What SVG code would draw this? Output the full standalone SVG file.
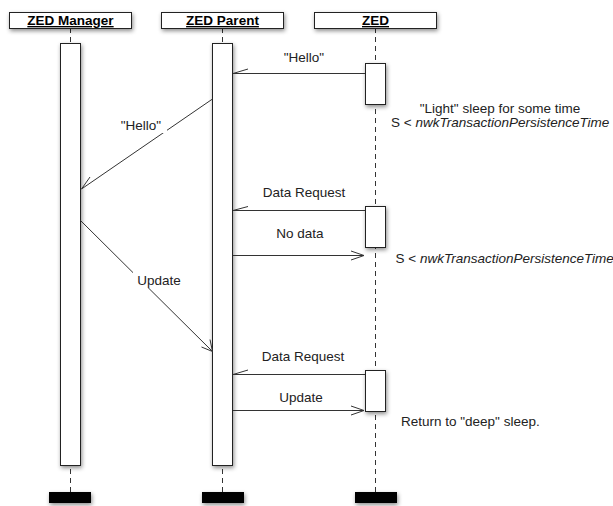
<svg xmlns="http://www.w3.org/2000/svg" width="613" height="506" viewBox="0 0 613 506">
<defs>
<filter id="sh" x="-50%" y="-50%" width="200%" height="200%">
<feDropShadow dx="1" dy="2" stdDeviation="2" flood-color="#000" flood-opacity="0.45"/>
</filter>
</defs>
<style>
.hdr{fill:#fff;stroke:#222;stroke-width:1}
.ht{font-family:"Liberation Sans",Arial,sans-serif;font-weight:bold;font-size:13.5px;text-decoration:underline;text-anchor:middle;fill:#000}
.life{stroke:#333;stroke-width:1;stroke-dasharray:5,4;fill:none}
.act{fill:#fff;stroke:#222;stroke-width:1}
.end{fill:#000}
.msg{stroke:#333;stroke-width:1;fill:none}
.t{font-family:"Liberation Sans",Arial,sans-serif;font-size:13.5px;fill:#222}
.c{text-anchor:middle}
.i{font-style:italic}
</style>
<rect width="613" height="506" fill="#fff"/>
<g id="lifelines">
<line class="life" x1="70.5" y1="28" x2="70.5" y2="492"/>
<line class="life" x1="222.5" y1="28" x2="222.5" y2="492"/>
<line class="life" x1="375.5" y1="28" x2="375.5" y2="492"/>
</g>
<g id="zed-manager">
<rect class="hdr" x="9.5" y="12.5" width="122" height="16" filter="url(#sh)"/>
<text class="ht" x="70.5" y="25">ZED Manager</text>
<rect class="act" x="60.5" y="43.5" width="20" height="422" filter="url(#sh)"/>
<rect class="end" x="49" y="492" width="42" height="11" filter="url(#sh)"/>
</g>
<g id="zed-parent">
<rect class="hdr" x="161.5" y="12.5" width="122" height="16" filter="url(#sh)"/>
<text class="ht" x="222.5" y="25">ZED Parent</text>
<rect class="act" x="212.5" y="43.5" width="20" height="422" filter="url(#sh)"/>
<rect class="end" x="202" y="492" width="42" height="11" filter="url(#sh)"/>
</g>
<g id="zed">
<rect class="hdr" x="314.5" y="12.5" width="122" height="16" filter="url(#sh)"/>
<text class="ht" x="375.5" y="25">ZED</text>
<rect class="act" x="365.5" y="63.5" width="20" height="41" filter="url(#sh)"/>
<rect class="act" x="365.5" y="206.5" width="20" height="41" filter="url(#sh)"/>
<rect class="act" x="365.5" y="370.5" width="20" height="41" filter="url(#sh)"/>
<rect class="end" x="355" y="492" width="42" height="11" filter="url(#sh)"/>
</g>
<g id="connectors">
<path class="msg" d="M365,73.5 H233 M233,73.5 L248,69"/>
<path class="msg" d="M212.5,99 L81.5,189 M81.5,189 L90,177"/>
<path class="msg" d="M365,210.5 H233 M233,210.5 L248,206.5"/>
<path class="msg" d="M233,255.5 H364 M351,251 L364,255.5 L351,260"/>
<path class="msg" d="M80.5,220.5 L212.5,351.5 M201.5,347 L212.5,351.5 L210,339.5"/>
<path class="msg" d="M365,374.5 H233 M233,374.5 L248,370"/>
<path class="msg" d="M233,410.5 H364 M351,406 L364,410.5 L351,415"/>
</g>
<g id="labels">
<text class="t c" x="304" y="62">"Hello"</text>
<rect x="117" y="117" width="50" height="16" fill="#fff"/>
<text class="t c" x="141" y="130">"Hello"</text>
<text class="t c" x="304" y="197">Data Request</text>
<text class="t c" x="300" y="238">No data</text>
<rect x="133" y="272" width="52" height="16" fill="#fff"/>
<text class="t c" x="159" y="285">Update</text>
<text class="t c" x="303" y="361">Data Request</text>
<text class="t c" x="301" y="402">Update</text>
<text class="t c" x="500" y="113">"Light" sleep for some time</text>
<text class="t" x="391" y="127">S &lt; <tspan class="i">nwkTransactionPersistenceTime</tspan></text>
<text class="t" x="395.5" y="263">S &lt; <tspan class="i">nwkTransactionPersistenceTime</tspan></text>
<text class="t" x="401" y="426">Return to "deep" sleep.</text>
</g>
</svg>
